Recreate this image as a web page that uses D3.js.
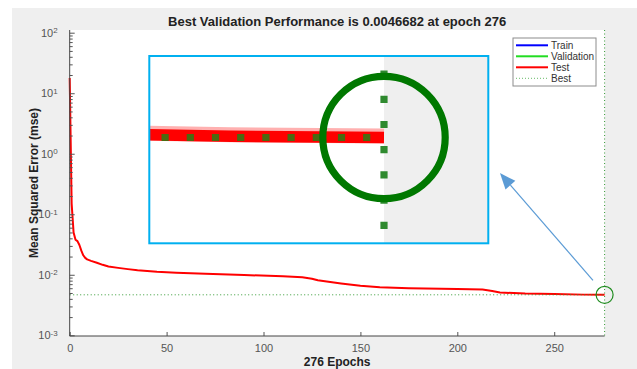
<!DOCTYPE html>
<html>
<head>
<meta charset="utf-8">
<script src="https://cdn.jsdelivr.net/npm/d3@7"></script>
<style>
  body { margin: 0; background: #fff; }
  text { font-family: Arial, "Liberation Sans", sans-serif; }
</style>
</head>
<body>
<svg id="chart" width="637" height="369"></svg>
<script>
// training record, test mse per epoch
var epochs = [0,1,2,3,4,5,6,7,8,9,11,14,17,20,25,30,35,45,55,70,90,110,120,125,128,140,150,160,175,200,213,218,222,235,250,265,276];
var testMse = [17.8,0.15,0.05,0.038,0.036,0.031,0.025,0.021,0.019,0.018,0.0170,0.0158,0.0146,0.0137,0.0130,0.0124,0.0119,0.0112,0.0108,0.0104,0.0099,0.0095,0.0091,0.0086,0.0081,0.0072,0.0066,0.0062,0.0060,0.0058,0.0057,0.0054,0.0051,0.0049,0.0048,0.0047,0.0046682];

var bestEpoch = 276;
var bestPerf = 0.0046682;

var xTicks = [0, 50, 100, 150, 200, 250];
var yTicks = [1e-3, 1e-2, 1e-1, 1e0, 1e1, 1e2];

var legendLabels = ["Train", "Validation", "Test", "Best"];
var legendColors = ["#0000ff", "#22dd22", "#ff0000", "#66bb66"];

// arrow annotation in data space: [epoch, mse]
var arrowFrom = [270, 0.0081];
var arrowTo = [222, 0.48];

var svg = d3.select("#chart");

var plot = {left: 69.7, right: 604.6, top: 30, bottom: 336};

var x = d3.scaleLinear().domain([0, bestEpoch]).range([plot.left, plot.right]);
var y = d3.scaleLog().domain([1e-3, 1e2]).range([335.3, 32.7]);

var bestColor = "#339933";

// figure background
svg.append("rect")
    .attr("x", 12).attr("y", 8)
    .attr("width", 637 - 12).attr("height", 369 - 8)
    .attr("fill", "#efefef");

function drawContent(g, isInset) {
    g.append("rect")
        .attr("x", plot.left).attr("y", plot.top)
        .attr("width", plot.right - plot.left)
        .attr("height", plot.bottom - plot.top)
        .attr("fill", "#fff");

    var line = d3.line()
        .x((d, i) => x(epochs[i]))
        .y(d => y(d));

    if (isInset) {
        // soft edge of the magnified antialiased line
        g.append("path")
            .datum(testMse)
            .attr("fill", "none")
            .attr("stroke", "#ffb0b0")
            .attr("stroke-width", 2.1)
            .attr("transform", "translate(0,-0.2)")
            .attr("d", line);
    }

    g.append("path")
        .datum(testMse)
        .attr("fill", "none")
        .attr("stroke", "#ff0000")
        .attr("stroke-width", isInset ? 1.6 : 2)
        .attr("stroke-linejoin", "round")
        .attr("d", line);

    g.append("line")
        .attr("x1", x(0)).attr("x2", x(bestEpoch))
        .attr("y1", y(bestPerf)).attr("y2", y(bestPerf))
        .attr("stroke", isInset ? "#4a6a10" : bestColor)
        .attr("stroke-width", 1)
        .attr("stroke-dasharray", "1,2.5");

    g.append("line")
        .attr("x1", x(bestEpoch)).attr("x2", x(bestEpoch))
        .attr("y1", plot.top).attr("y2", plot.bottom)
        .attr("stroke", isInset ? "#2f8a2f" : bestColor)
        .attr("stroke-width", 1)
        .attr("stroke-dasharray", "1,2.5");

    g.append("circle")
        .attr("cx", x(bestEpoch)).attr("cy", y(bestPerf))
        .attr("r", 8.5)
        .attr("fill", "none")
        .attr("stroke", isInset ? "#007800" : "#1f8c1f")
        .attr("stroke-width", isInset ? 1.0 : 1.2);
}

drawContent(svg.append("g"), false);

// axes
var yAxis = d3.axisLeft(y)
    .tickValues(yTicks)
    .tickSize(-5)
    .tickPadding(5)
    .tickFormat(d => "10");

var yMinor = [];
yTicks.slice(0, -1).forEach(p => {
    for (var k = 2; k < 10; k++) yMinor.push(p * k);
});

svg.append("g")
    .attr("transform", "translate(" + plot.left + ",0)")
    .call(d3.axisLeft(y).tickValues(yMinor).tickSize(-3).tickFormat(""))
    .call(g => g.select(".domain").remove())
    .selectAll("line").attr("stroke", "#555");

var gy = svg.append("g")
    .attr("transform", "translate(" + plot.left + ",0)")
    .call(yAxis);
gy.select(".domain").remove();
gy.selectAll("line").attr("stroke", "#555");
gy.selectAll("text")
    .attr("fill", "#555")
    .attr("font-size", 11)
    .attr("dx", -7)
    .each(function(d) {
        d3.select(this).append("tspan")
            .attr("dy", "-0.45em")
            .attr("font-size", 8)
            .text(Math.round(Math.log10(d)));
    });

var gx = svg.append("g")
    .attr("transform", "translate(0," + plot.bottom + ")")
    .call(d3.axisBottom(x).tickValues(xTicks).tickSize(-4).tickPadding(8));
gx.select(".domain").remove();
gx.selectAll("line").attr("stroke", "#555");
gx.selectAll("text").attr("fill", "#555").attr("font-size", 11);

svg.append("line")
    .attr("x1", plot.left).attr("x2", plot.left)
    .attr("y1", plot.top).attr("y2", plot.bottom)
    .attr("stroke", "#444");
svg.append("line")
    .attr("x1", plot.left).attr("x2", plot.right)
    .attr("y1", plot.bottom).attr("y2", plot.bottom)
    .attr("stroke", "#444");

// titles
svg.append("text")
    .text("Best Validation Performance is " + bestPerf + " at epoch " + bestEpoch)
    .attr("x", (plot.left + plot.right) / 2)
    .attr("y", 26)
    .attr("text-anchor", "middle")
    .attr("font-size", 13)
    .attr("font-weight", "bold")
    .attr("fill", "#222");

svg.append("text")
    .text(bestEpoch + " Epochs")
    .attr("x", (plot.left + plot.right) / 2)
    .attr("y", 366)
    .attr("text-anchor", "middle")
    .attr("font-size", 12)
    .attr("font-weight", "bold")
    .attr("fill", "#222");

svg.append("text")
    .text("Mean Squared Error  (mse)")
    .attr("transform", "translate(38," + ((plot.top + plot.bottom) / 2) + ") rotate(-90)")
    .attr("text-anchor", "middle")
    .attr("font-size", 12)
    .attr("font-weight", "bold")
    .attr("fill", "#222");

// legend
var legend = svg.append("g");
legend.append("rect")
    .attr("x", 513).attr("y", 38)
    .attr("width", 83).attr("height", 48)
    .attr("fill", "#fff")
    .attr("stroke", "#8c8c8c");

legendLabels.forEach((label, i) => {
    var ly = 45.3 + i * 11;
    legend.append("line")
        .attr("x1", 516).attr("x2", 548)
        .attr("y1", ly).attr("y2", ly)
        .attr("stroke", legendColors[i])
        .attr("stroke-width", label == "Best" ? 1 : 2)
        .attr("stroke-dasharray", label == "Best" ? "1,2" : null);
    legend.append("text")
        .text(label)
        .attr("x", 551)
        .attr("y", ly + 3.6)
        .attr("font-size", 10)
        .attr("fill", "#333");
});

// arrow
var ax1 = x(arrowFrom[0]), ay1 = y(arrowFrom[1]);
var ax2 = x(arrowTo[0]), ay2 = y(arrowTo[1]);
var ang = Math.atan2(ay2 - ay1, ax2 - ax1);
var headLen = 16, headHalf = 6.5;
var bx = ax2 - headLen * Math.cos(ang), by = ay2 - headLen * Math.sin(ang);
svg.append("line")
    .attr("x1", ax1).attr("y1", ay1)
    .attr("x2", bx).attr("y2", by)
    .attr("stroke", "#5b9bd5")
    .attr("stroke-width", 1.2);
svg.append("polygon")
    .attr("points", [
        [ax2, ay2],
        [bx + headHalf * Math.sin(ang), by - headHalf * Math.cos(ang)],
        [bx - headHalf * Math.sin(ang), by + headHalf * Math.cos(ang)]
    ].map(p => p.join(",")).join(" "))
    .attr("fill", "#5b9bd5");

// magnified inset of the best point
var inset = {x: 149.3, y: 56, w: 339, h: 187.3, cx: 384, cy: 137.5, k: 7.2};

svg.append("clipPath").attr("id", "insetClip")
    .append("rect")
    .attr("x", inset.x).attr("y", inset.y)
    .attr("width", inset.w).attr("height", inset.h);

var insetG = svg.append("g").attr("clip-path", "url(#insetClip)")
    .append("g")
    .attr("transform", "translate(" + inset.cx + "," + inset.cy + ") scale(" + inset.k + ") translate(" + (-x(bestEpoch)) + "," + (-y(bestPerf)) + ")");

insetG.append("rect")
    .attr("x", 0).attr("y", 0)
    .attr("width", 700).attr("height", 400)
    .attr("fill", "#efefef");
drawContent(insetG, true);

svg.append("rect")
    .attr("x", inset.x).attr("y", inset.y)
    .attr("width", inset.w).attr("height", inset.h)
    .attr("fill", "none")
    .attr("stroke", "#00b0f0")
    .attr("stroke-width", 2);
</script>
</body>
</html>
